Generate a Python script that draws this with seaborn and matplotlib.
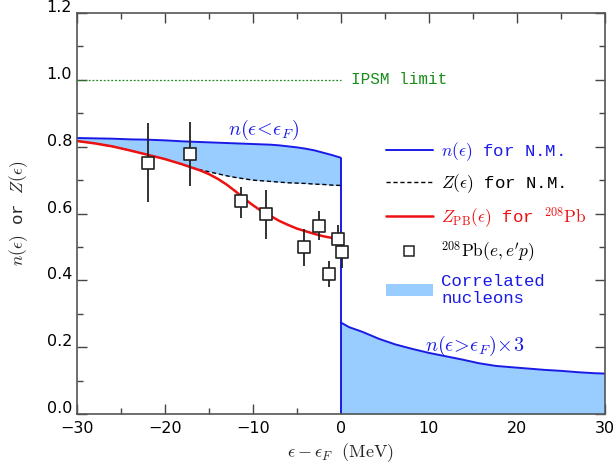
import numpy as np
import matplotlib
matplotlib.use("Agg")
import matplotlib.pyplot as plt
import matplotlib.transforms as mtrans
import seaborn as sns
from matplotlib.lines import Line2D
from matplotlib.patches import Patch
from matplotlib.ticker import MultipleLocator, FormatStrFormatter

# ---- data ----
x_nm = [-30, -28, -26, -24, -22, -20, -18, -17, -16, -15, -14, -13, -12, -11, -10,
        -9, -8, -7, -6, -5, -4, -3, -2, -1, 0]
n_below = [0.826, 0.825, 0.824, 0.822, 0.821, 0.819, 0.816, 0.815, 0.814, 0.813, 0.812, 0.811,
           0.810, 0.809, 0.808, 0.807, 0.806, 0.804, 0.801, 0.798, 0.794, 0.789, 0.782, 0.775, 0.767]
z_nm = [0.817, 0.810, 0.801, 0.789, 0.776, 0.763, 0.747, 0.738, 0.731, 0.725, 0.719, 0.713,
        0.708, 0.704, 0.700, 0.698, 0.696, 0.694, 0.692, 0.691, 0.690, 0.688, 0.687, 0.685, 0.684]

x_pb = [-30, -28, -26, -24, -22, -20, -18, -17, -16, -15, -14, -13, -12, -11, -10,
        -9, -8, -7, -6, -5, -4, -3, -2, -1, -0.4]
z_pb = [0.817, 0.810, 0.801, 0.789, 0.776, 0.763, 0.747, 0.738, 0.729, 0.718, 0.704, 0.687,
        0.667, 0.645, 0.625, 0.607, 0.593, 0.578, 0.566, 0.555, 0.547, 0.539, 0.532, 0.527, 0.525]

x_above = [0, 0.94, 2.45, 4.34, 6.23, 8.11, 10.0, 11.9, 13.8, 15.7, 17.6, 19.4, 21.3,
           23.2, 25.1, 27.0, 28.9, 30]
n_above = [0.274, 0.260, 0.246, 0.225, 0.208, 0.195, 0.183, 0.173, 0.163, 0.152, 0.144, 0.140,
           0.136, 0.132, 0.129, 0.125, 0.122, 0.121]

x_data = [-21.9, -17.1, -11.4, -8.5, -4.2, -2.5, -1.3, -0.3, 0.1]
y_data = [0.752, 0.779, 0.636, 0.598, 0.499, 0.563, 0.419, 0.525, 0.486]
y_lo = [0.633, 0.683, 0.587, 0.523, 0.443, 0.520, 0.379, 0.480, 0.436]
y_hi = [0.871, 0.873, 0.680, 0.671, 0.554, 0.609, 0.457, 0.567, 0.540]

ipsm_limit = 1.0

# ---- style ----
sns.set_theme(style="ticks")
plt.rcParams["mathtext.fontset"] = "cm"
plt.rcParams["font.family"] = ["DejaVu Sans"]

BLUE = "#1a1ae6"
FILL = "#99ccff"
RED = "#ee1111"
GREEN = "#1a8c1a"
MONO = "Liberation Mono"

fig = plt.figure(figsize=(6.13, 4.66), dpi=100)
ax = fig.add_axes([0.1256, 0.1116, 0.8606, 0.8604])

# fills
ax.fill_between(x_nm, z_nm, n_below, color=FILL, lw=0)
ax.fill_between(x_above, 0, n_above, color=FILL, lw=0)

# lines
sns.lineplot(x=x_nm, y=n_below, ax=ax, color=BLUE, lw=1.4, sort=False)
sns.lineplot(x=x_above, y=n_above, ax=ax, color=BLUE, lw=1.4, sort=False)
ax.vlines(x_nm[-1], 0, n_below[-1], color=BLUE, lw=1.4)
sns.lineplot(x=x_nm, y=z_nm, ax=ax, color="black", lw=1.0, ls=(0, (3, 2)), sort=False)
sns.lineplot(x=x_pb, y=z_pb, ax=ax, color=RED, lw=1.8, sort=False)

# IPSM line
ax.hlines(ipsm_limit, -30, 0, color=GREEN, lw=0.9, linestyles=(0, (1.5, 1.5)))
ax.text(1.2, ipsm_limit, "IPSM limit", color=GREEN, fontsize=11.5, family=MONO,
        va="center", ha="left")

# data points
yerr = [np.array(y_data) - np.array(y_lo), np.array(y_hi) - np.array(y_data)]
ax.errorbar(x_data, y_data, yerr=yerr, fmt="none", ecolor="#222222", elinewidth=1.3, capsize=0, zorder=4)
sns.scatterplot(x=x_data, y=y_data, ax=ax, marker="s", s=75, facecolor="white",
                edgecolor="#222222", linewidth=1.2, zorder=5)

# annotations
ax.text(-8.8, 0.85, r"$n(\epsilon\!<\!\epsilon_F)$", color=BLUE, fontsize=14.5, ha="center", va="center")
ax.text(15.2, 0.203, r"$n(\epsilon\!>\!\epsilon_F)\!\times\!3$", color=BLUE, fontsize=14.5,
        ha="center", va="center")

# legend
handles = [
    Line2D([], [], color=BLUE, lw=1.4),
    Line2D([], [], color="black", lw=1.0, ls=(0, (3, 2))),
    Line2D([], [], color=RED, lw=1.8),
    Line2D([], [], color="#222222", marker="s", ls="none", markersize=7.5,
           markerfacecolor="white", markeredgewidth=1.1),
    Patch(facecolor=FILL, edgecolor="none"),
]
labels = [
    r"$n(\epsilon)$ for N.M.",
    r"$Z(\epsilon)$ for N.M.",
    r"$Z_{\mathrm{PB}}(\epsilon)$ for $^{208}\mathrm{Pb}$",
    r"$^{208}\mathrm{Pb}(e,e^{\prime}p)$",
    "Correlated\nnucleons",
]
leg = ax.legend(handles, labels, loc="upper left", bbox_to_anchor=(0.572, 0.70),
                frameon=False, prop={"family": MONO, "size": 12.5}, handlelength=2.7,
                handletextpad=0.5, labelspacing=0.55, borderaxespad=0)
for t, c in zip(leg.get_texts(), [BLUE, "black", RED, "black", BLUE]):
    t.set_color(c)

# axes
ax.set_xlim(-30, 30)
ax.set_ylim(0, 1.2)
ax.xaxis.set_major_locator(MultipleLocator(10))
ax.xaxis.set_minor_locator(MultipleLocator(5))
ax.yaxis.set_major_locator(MultipleLocator(0.2))
ax.yaxis.set_minor_locator(MultipleLocator(0.1))
ax.yaxis.set_major_formatter(FormatStrFormatter("%.1f"))
ax.tick_params(which="both", direction="in", top=True, right=True, colors="#444444",
               labelcolor="black", labelsize=11.5)
ax.tick_params(which="major", length=7, width=1.0)
ax.tick_params(which="minor", length=4, width=1.0)
ax.tick_params(axis="x", pad=5)
for s in ax.spines.values():
    s.set_color("#555555")
    s.set_linewidth(1.2)

# y tick labels sit slightly above their ticks, as in the reference
offset = mtrans.ScaledTranslation(0, 5 / 72, fig.dpi_scale_trans)
for lab in ax.get_yticklabels():
    lab.set_transform(lab.get_transform() + offset)

ax.set_xlabel(r"$\epsilon-\epsilon_F\ \ (\mathrm{MeV})$", fontsize=13, labelpad=4)
ax.set_ylabel(r"$n(\epsilon)$ or $Z(\epsilon)$", fontsize=12.5, family=MONO, labelpad=12)

fig.savefig("out.png", dpi=100)
